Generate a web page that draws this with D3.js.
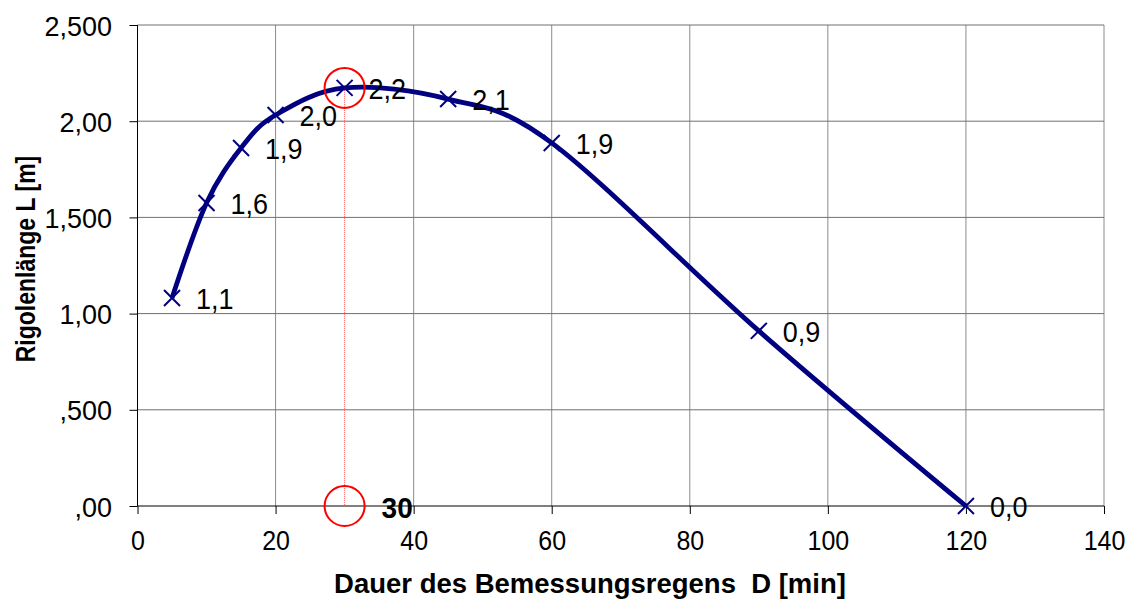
<!DOCTYPE html>
<html>
<head>
<meta charset="utf-8">
<script src="https://cdn.jsdelivr.net/npm/d3@7"></script>
<style>
  body { margin: 0; background: #fff; }
  text { font-family: Arial, "Liberation Sans", sans-serif; fill: #000; }
</style>
</head>
<body>
<script>
// Data
var duration = [5, 10, 15, 20, 30, 45, 60, 90, 120];
var length = [1.081, 1.575, 1.861, 2.032, 2.173, 2.115, 1.887, 0.910, 0.0];
var pointLabels = ["1,1", "1,6", "1,9", "2,0", "2,2", "2,1", "1,9", "0,9", "0,0"];
var xTicks = [0, 20, 40, 60, 80, 100, 120, 140];
var yTicks = [0, 0.5, 1, 1.5, 2, 2.5];
var yTickLabels = [",00", ",500", "1,00", "1,500", "2,00", "2,500"];
var optimum = { x: 30, y: 2.173, label: "30" };

var W = 1138, H = 605;
var margin = { top: 25, right: 34, bottom: 99, left: 137.5 };
var width = W - margin.left - margin.right;
var height = H - margin.top - margin.bottom;

var svg = d3.select("body").append("svg")
    .attr("width", W)
    .attr("height", H);

var g = svg.append("g")
    .attr("transform", "translate(" + margin.left + "," + margin.top + ")");

var x = d3.scaleLinear().domain([0, 140]).range([0, width]);
var y = d3.scaleLinear().domain([0, 2.5]).range([height, 0]);

// glyphs in the original are a bit taller than Arial, so stretch vertically
function place(sel, tx, ty, sy) {
    sel.attr("x", 0).attr("y", 0).attr("dy", null)
        .attr("transform", "translate(" + tx + "," + ty + ") scale(1," + sy + ")");
}

// Grid
g.selectAll("line.vgrid")
    .data(xTicks.slice(1))
    .enter().append("line")
    .attr("class", "vgrid")
    .attr("x1", function (d) { return x(d); })
    .attr("x2", function (d) { return x(d); })
    .attr("y1", 0).attr("y2", height)
    .attr("stroke", "#8c8c8c").attr("stroke-width", 1);

g.selectAll("line.hgrid")
    .data(yTicks.slice(1))
    .enter().append("line")
    .attr("class", "hgrid")
    .attr("x1", 0).attr("x2", width)
    .attr("y1", function (d) { return y(d); })
    .attr("y2", function (d) { return y(d); })
    .attr("stroke", "#707070").attr("stroke-width", 1);

// Axes
var xAxis = d3.axisBottom(x).tickValues(xTicks).tickSize(8);
var yAxis = d3.axisLeft(y).tickValues(yTicks).tickSize(8)
    .tickFormat(function (d, i) { return yTickLabels[i]; });

var gx = g.append("g").attr("transform", "translate(0," + height + ")").call(xAxis);
var gy = g.append("g").call(yAxis);

[gx, gy].forEach(function (a) {
    a.select(".domain").attr("stroke", "#000");
    a.selectAll(".tick line").attr("stroke", "#000");
    a.selectAll(".tick text")
        .style("font-family", "Arial, 'Liberation Sans', sans-serif")
        .attr("fill", "#000");
});
gx.select(".domain").attr("d", "M0,0H" + width);
gy.select(".domain").attr("d", "M0,0V" + height);
gx.selectAll(".tick text").style("font-size", "25px").call(place, 0, 44, 1.12);
gy.selectAll(".tick text").style("font-size", "27px").call(place, -25.5, 10, 1.04);

// Dotted red guide line at the optimum
g.append("line")
    .attr("x1", x(optimum.x)).attr("x2", x(optimum.x))
    .attr("y1", y(optimum.y)).attr("y2", y(0))
    .attr("stroke", "#ff6060").attr("stroke-width", 1)
    .attr("stroke-dasharray", "1,1");

// Smoothed curve
var pts = duration.map(function (d, i) { return [d, length[i]]; });
var line = d3.line()
    .x(function (d) { return x(d[0]); })
    .y(function (d) { return y(d[1]); })
    .curve(d3.curveCardinal.tension(0));

g.append("path")
    .datum(pts)
    .attr("d", line)
    .attr("fill", "none")
    .attr("stroke", "#000080")
    .attr("stroke-width", 4.8)
    .attr("stroke-linejoin", "round");

// X markers
var s = 8;
var markers = g.selectAll("g.marker")
    .data(pts)
    .enter().append("g")
    .attr("class", "marker")
    .attr("transform", function (d) { return "translate(" + x(d[0]) + "," + y(d[1]) + ")"; });

markers.append("path")
    .attr("d", "M" + (-s) + "," + (-s) + "L" + s + "," + s + "M" + (-s) + "," + s + "L" + s + "," + (-s))
    .attr("stroke", "#000080")
    .attr("stroke-width", 2)
    .attr("fill", "none");

// Point labels
markers.append("text")
    .style("font-size", "27px")
    .text(function (d, i) { return pointLabels[i]; })
    .call(place, 24, 11, 1.06);

// Red circles
[optimum.y, 0].forEach(function (v) {
    g.append("circle")
        .attr("cx", x(optimum.x))
        .attr("cy", y(v))
        .attr("r", 20)
        .attr("fill", "none")
        .attr("stroke", "#ff0000")
        .attr("stroke-width", 2);
});

g.append("text")
    .style("font-size", "28px")
    .style("font-weight", "bold")
    .text(optimum.label)
    .call(place, x(optimum.x) + 37, y(0) + 12, 1.04);

// Axis titles
svg.append("text")
    .attr("text-anchor", "middle")
    .style("font-size", "27.5px")
    .style("font-weight", "bold")
    .text("Dauer des Bemessungsregens\u00a0\u00a0D [min]")
    .call(place, 590, 593, 1.02);

svg.append("text")
    .attr("text-anchor", "middle")
    .style("font-size", "23px")
    .style("font-weight", "bold")
    .text("Rigolenlänge L [m]")
    .attr("transform", "translate(35,259) rotate(-90) scale(1,1.2)");
</script>
</body>
</html>
